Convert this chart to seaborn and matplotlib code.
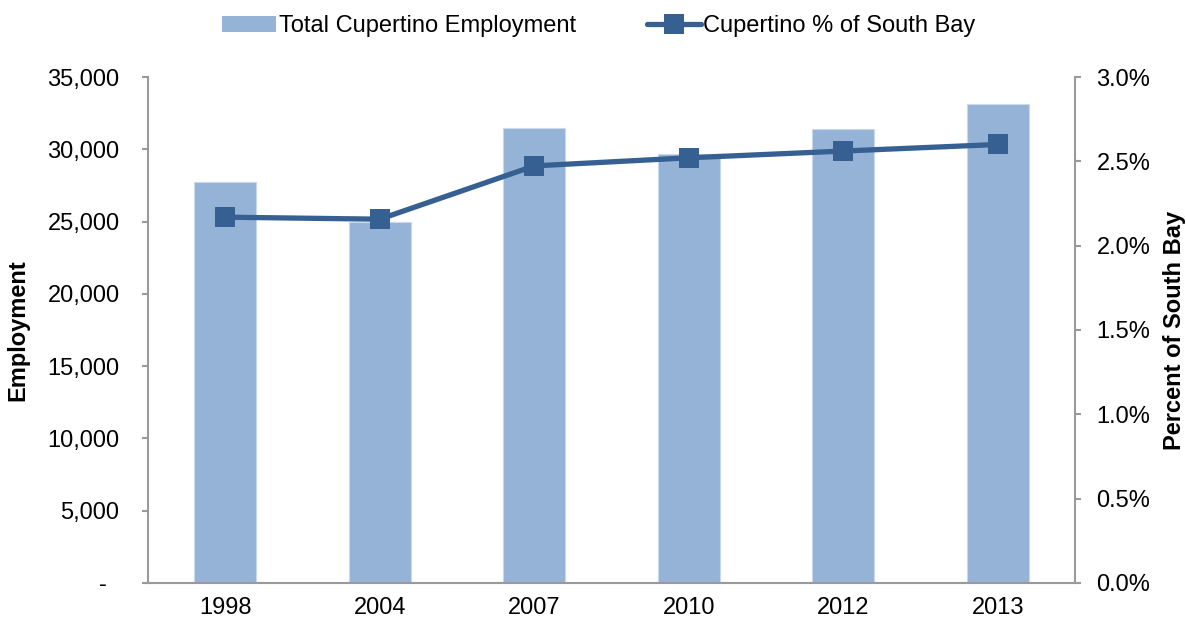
import matplotlib
matplotlib.use("Agg")
import matplotlib.pyplot as plt
from matplotlib.ticker import FuncFormatter, FixedLocator
from matplotlib.patches import Patch
from matplotlib.lines import Line2D
import seaborn as sns
import pandas as pd

years = ["1998", "2004", "2007", "2010", "2012", "2013"]
employment = [27750, 25000, 31500, 29650, 31400, 33100]
pct_south_bay = [0.02169, 0.02157, 0.02473, 0.02521, 0.02561, 0.02600]

bar_color = "#95B3D7"
line_color = "#366092"
spine_color = "#9A9A9A"

df = pd.DataFrame({"Year": years, "Employment": employment, "Pct": pct_south_bay})

sns.set_style("white")
plt.rcParams["font.family"] = ["Liberation Sans", "DejaVu Sans"]
plt.rcParams["text.color"] = "black"
plt.rcParams["axes.labelcolor"] = "black"

fig = plt.figure(figsize=(11.86, 6.21), dpi=100)
ax = fig.add_axes([0.1248, 0.0612, 0.7816, 0.8148])

sns.barplot(data=df, x="Year", y="Employment", color=bar_color, width=0.4,
            saturation=1, edgecolor="#C9D8EA", linewidth=0.8, ax=ax)
ax.set_ylim(0, 35000)
ax.set_xlim(-0.5, len(years) - 0.5)
ax.yaxis.set_major_locator(FixedLocator(range(0, 35001, 5000)))
ax.yaxis.set_major_formatter(FuncFormatter(lambda v, p: "-  " if v == 0 else f"{v:,.0f}"))
ax.set_xlabel("")
ax.set_ylabel("")

ax2 = ax.twinx()
sns.lineplot(data=df, x="Year", y="Pct", color=line_color, linewidth=3.8,
             marker="s", markersize=15, markeredgewidth=0, sort=False, ax=ax2)
ax2.set_ylim(0, 0.03)
ax2.yaxis.set_major_locator(FixedLocator([i * 0.005 for i in range(7)]))
ax2.yaxis.set_major_formatter(FuncFormatter(lambda v, p: f"{v * 100:.1f}%"))
ax2.set_xlabel("")
ax2.set_ylabel("")
ax2.set_xlim(-0.5, len(years) - 0.5)

fig.text(18 / 1186, 1 - 330 / 621, "Employment", rotation=90, ha="center", va="center",
         fontsize=17, fontweight="bold")
fig.text(1175 / 1186, 1 - 330 / 621, "Percent of South Bay", rotation=90, ha="center",
         va="center", fontsize=17, fontweight="bold")

# x ticks sit between the categories
ax.set_xticks(range(len(years)))
ax.set_xticklabels(years)
ax.set_xticks([i - 0.5 for i in range(len(years) + 1)], minor=True)
ax.tick_params(axis="x", which="major", length=0, labelsize=17, pad=10, labelcolor="black")
ax.tick_params(axis="x", which="minor", length=5, width=1.5, color=spine_color, direction="out")
ax.tick_params(axis="y", length=4.5, width=1.5, color=spine_color, direction="out",
               labelsize=17, pad=16, labelcolor="black")
ax2.tick_params(axis="y", length=4.5, width=1.5, color=spine_color, direction="out",
                labelsize=17, pad=11, labelcolor="black")

for a in (ax, ax2):
    a.spines["top"].set_visible(False)
    for s in ("left", "right", "bottom"):
        a.spines[s].set_color(spine_color)
        a.spines[s].set_linewidth(1.5)
ax.spines["right"].set_visible(False)
ax2.spines["left"].set_visible(False)
ax2.spines["bottom"].set_visible(False)
ax.grid(False)
ax2.grid(False)

handles = [Patch(facecolor=bar_color, edgecolor="none"),
           Line2D([], [], color=line_color, linewidth=3.8, marker="s",
                  markersize=15, markeredgewidth=0)]
fig.legend(handles, ["Total Cupertino Employment", "Cupertino % of South Bay"],
           loc="center", bbox_to_anchor=(0.505, 0.958), ncol=2, frameon=False,
           fontsize=17, handlelength=2.3, handletextpad=0.1, columnspacing=3.0)
if ax2.get_legend() is not None:
    ax2.get_legend().remove()

fig.savefig("out.png", dpi=100)
